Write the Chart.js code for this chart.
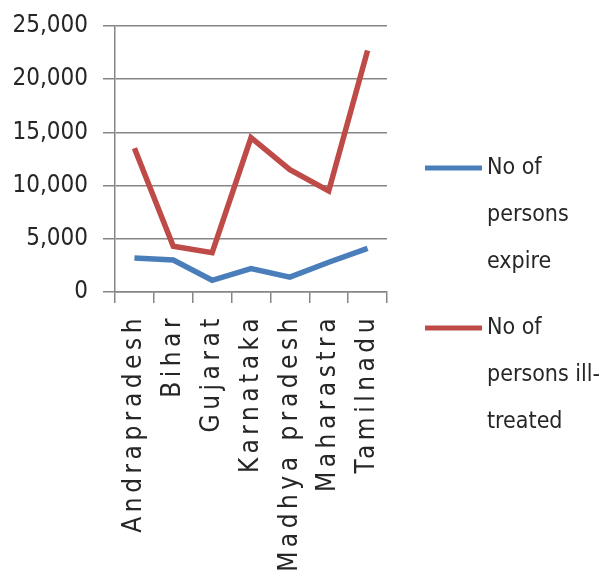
<!DOCTYPE html>
<html>
<head>
<meta charset="utf-8">
<script src="https://cdn.jsdelivr.net/npm/chart.js@4/dist/chart.umd.min.js"></script>
<style>
html,body{margin:0;padding:0;background:#fff;}
#wrap{width:603px;height:577px;position:relative;}
</style>
</head>
<body>
<div id="wrap"><canvas id="c" width="603" height="577"></canvas></div>
<script>
const categories = ["Andrapradesh","Bihar","Gujarat","Karnataka","Madhya pradesh","Maharastra","Tamilnadu"];
const expireValues = [3200, 3000, 1100, 2200, 1400, 2800, 4100];
const illTreatedValues = [13500, 4300, 3700, 14500, 11500, 9500, 22700];
const seriesLabels = ["No of persons expire", "No of persons ill-treated"];
const legendLines = [["No of","persons","expire"],["No of","persons ill-","treated"]];
const yTicks = [0, 5000, 10000, 15000, 20000, 25000];

const FONT = "'DejaVu Sans Condensed','DejaVu Sans',sans-serif";
const TXT = '#262626';
const LABEL_SPACING = '4.5px';

class SpacedCategory extends Chart.CategoryScale {
  update(a, b, c) {
    const ctx = this.ctx; const prev = ctx.letterSpacing;
    ctx.letterSpacing = LABEL_SPACING;
    const r = super.update(a, b, c);
    ctx.letterSpacing = prev;
    return r;
  }
  drawLabels(area) {
    const ctx = this.ctx; const prev = ctx.letterSpacing;
    ctx.letterSpacing = LABEL_SPACING;
    super.drawLabels(area);
    ctx.letterSpacing = prev;
  }
}
SpacedCategory.id = 'spacedCategory';
SpacedCategory.defaults = Chart.CategoryScale.defaults;
Chart.register(SpacedCategory);

const legendPlugin = {
  id: 'sideLegend',
  afterDraw(chart) {
    const ctx = chart.ctx;
    const ca = chart.chartArea;
    const x0 = ca.right + 38;
    const starts = [ca.top + 142, ca.top + 302];
    const lh = 47;
    ctx.save();
    ctx.font = '23px ' + FONT;
    ctx.textBaseline = 'middle';
    ctx.textAlign = 'left';
    chart.data.datasets.forEach((ds, i) => {
      const y = starts[i];
      ctx.strokeStyle = ds.borderColor;
      ctx.lineWidth = 5;
      ctx.beginPath();
      ctx.moveTo(x0, y);
      ctx.lineTo(x0 + 57, y);
      ctx.stroke();
      ctx.fillStyle = TXT;
      legendLines[i].forEach((t, j) => ctx.fillText(t, x0 + 62, y + j * lh));
    });
    ctx.restore();
  }
};

new Chart(document.getElementById('c'), {
  type: 'line',
  data: {
    labels: categories,
    datasets: [
      {label: seriesLabels[0], data: expireValues, borderColor: '#4a7ebb', backgroundColor: '#4a7ebb', borderWidth: 5.5, pointRadius: 0, tension: 0},
      {label: seriesLabels[1], data: illTreatedValues, borderColor: '#be4b48', backgroundColor: '#be4b48', borderWidth: 5.5, pointRadius: 0, tension: 0}
    ]
  },
  options: {
    responsive: false,
    animation: false,
    layout: {padding: {left: 0, right: 216, top: 26, bottom: 0}},
    plugins: {legend: {display: false}, tooltip: {enabled: false}},
    scales: {
      x: {
        type: 'spacedCategory',
        offset: true,
        afterFit(s) { s.height = 285; s.paddingLeft = 0; s.paddingRight = 0; },
        grid: {display: true, drawOnChartArea: false, drawTicks: true, tickLength: 11, color: '#868686', lineWidth: 1.5, offset: true},
        border: {color: '#868686', width: 1.5},
        ticks: {color: TXT, font: {family: FONT, size: 26}, minRotation: 90, maxRotation: 90, autoSkip: false, padding: 11}
      },
      y: {
        min: 0, max: 25000,
        afterBuildTicks(axis) { axis.ticks = yTicks.map(v => ({value: v})); },
        afterFit(s) { s.width = 115; s.paddingTop = 0; s.paddingBottom = 0; },
        grid: {color: '#868686', lineWidth: 1.5, tickLength: 12},
        border: {color: '#868686', width: 1.5},
        ticks: {color: TXT, font: {family: FONT, size: 24}, padding: 15,
          callback: v => Number(v).toLocaleString('en-US')}
      }
    }
  },
  plugins: [legendPlugin]
});
</script>
</body>
</html>
